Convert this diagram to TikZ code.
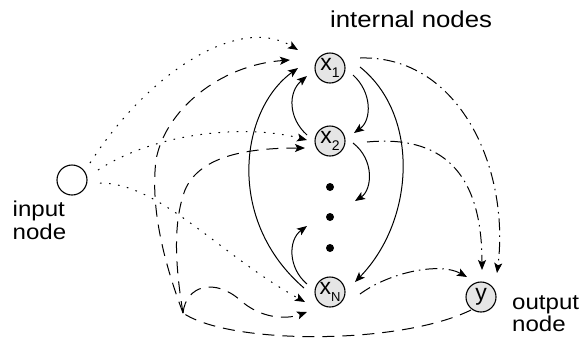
\documentclass[tikz,border=0pt]{standalone}
\usepackage{fontspec}
\setmainfont{Liberation Sans}
\usetikzlibrary{arrows.meta,calc}
\newcommand\widetext[1]{\scalebox{1.12}[1]{#1}}
\begin{document}
\begin{tikzpicture}[x=1pt,y=-1pt,
  unit/.style={circle, draw, line width=1.1pt, fill=black!10, minimum size=30pt, inner sep=0pt,
    font=\fontsize{23}{23}\selectfont},
  inunit/.style={unit, fill=white},
  dotnode/.style={circle, fill=black, minimum size=8pt, inner sep=0pt},
  ar/.style={-{Stealth[length=10pt,width=8pt,inset=2.2pt]}, line width=1pt},
  dotl/.style={ar, dash pattern=on 1.6pt off 7.5pt},
  dashl/.style={ar, dash pattern=on 12pt off 8pt},
  dashdotl/.style={ar, dash pattern=on 12pt off 5pt on 1.5pt off 5pt},
  lbl/.style={font=\fontsize{21.5}{22.5}\selectfont, inner sep=0pt, anchor=base west, align=left},
  toplbl/.style={font=\fontsize{23}{24}\selectfont, inner sep=0pt, anchor=base west}
]
\useasboundingbox (0,0) rectangle (580,341);

% nodes
\node[inunit] (in) at (72,180) {};
\node[unit] (x1) at (330,68) {x\raisebox{-0.28em}{\fontsize{14}{14}\selectfont 1}};
\node[unit] (x2) at (330,141) {x\raisebox{-0.28em}{\fontsize{14}{14}\selectfont 2}};
\node[unit] (xN) at (330,292) {x\raisebox{-0.28em}{\fontsize{13}{13}\selectfont N}};
\node[unit] (y) at (481,297) {y};
\node[dotnode] (d1) at (330,187) {};
\node[dotnode] (d2) at (330,217) {};
\node[dotnode] (d3) at (330,248) {};
\coordinate (J) at (183,313);

% labels
\node[toplbl] (tl) at (330,27) {\widetext{internal nodes}};
\node[lbl] (il) at (12.5,239.2) {\widetext{input}\\\widetext{node}};
\node[lbl] (ol) at (512,331.5) {\widetext{output}\\\widetext{node}};

% input -> internal (dotted)
\draw[dotl] ($(in)+(18,-17)$) .. controls (150,70) and (240,15) .. ($(x1)+(-32,-18)$);
\draw[dotl] ($(in)+(26,-10)$) .. controls (160,130) and (250,125) .. ($(x2)+(-23,-1)$);
\draw[dotl] ($(in)+(28,3)$) .. controls (160,183) and (220,255) .. ($(xN)+(-25,10)$);

% output feedback (dashed)
\draw[dashl, -] ($(y)+(-10,13)$) .. controls (400,345) and (230,345) .. (J);
\draw[dashl] (J) .. controls (165,265) and (150,210) .. (156,160)
  .. controls (165,110) and (220,65) .. ($(x1)+(-40,-8)$);
\draw[dashl] (J) .. controls (176,270) and (172,225) .. (185,190)
  .. controls (200,155) and (250,148) .. ($(x2)+(-25,7)$);
\draw[dashl] (J) .. controls (186,285) and (215,278) .. (240,300)
  .. controls (260,318) and (285,320) .. ($(xN)+(-23,20)$);

% internal connections (solid)
\draw[ar] ($(x1)+(23,7)$) .. controls (372,92) and (372,120) .. ($(x2)+(24,-8)$);
\draw[ar] ($(x2)+(-23,-6)$) .. controls (288,118) and (288,92) .. ($(x1)+(-23,8)$);
\draw[ar] ($(x2)+(23,2)$) .. controls (375,160) and (372,190) .. ($(d1)+(25,14)$);
\draw[ar] ($(xN)+(-23,-8)$) .. controls (288,268) and (288,240) .. ($(d3)+(-23,-22)$);
\draw[ar] ($(xN)+(-26,-4)$) .. controls (225,220) and (240,110) .. ($(x1)+(-32,0)$);
\draw[ar] ($(x1)+(30,-1)$) .. controls (420,115) and (415,220) .. ($(xN)+(25,-10)$);

% internal -> output (dash-dot)
\draw[dashdotl] ($(x1)+(30,-10)$) .. controls (460,55) and (510,170) .. ($(y)+(16,-24)$);
\draw[dashdotl] ($(x2)+(37,1)$) .. controls (440,135) and (482,170) .. ($(y)+(1,-27)$);
\draw[dashdotl] ($(xN)+(30,2)$) .. controls (390,272) and (440,262) .. ($(y)+(-14,-20)$);
\end{tikzpicture}
\end{document}
